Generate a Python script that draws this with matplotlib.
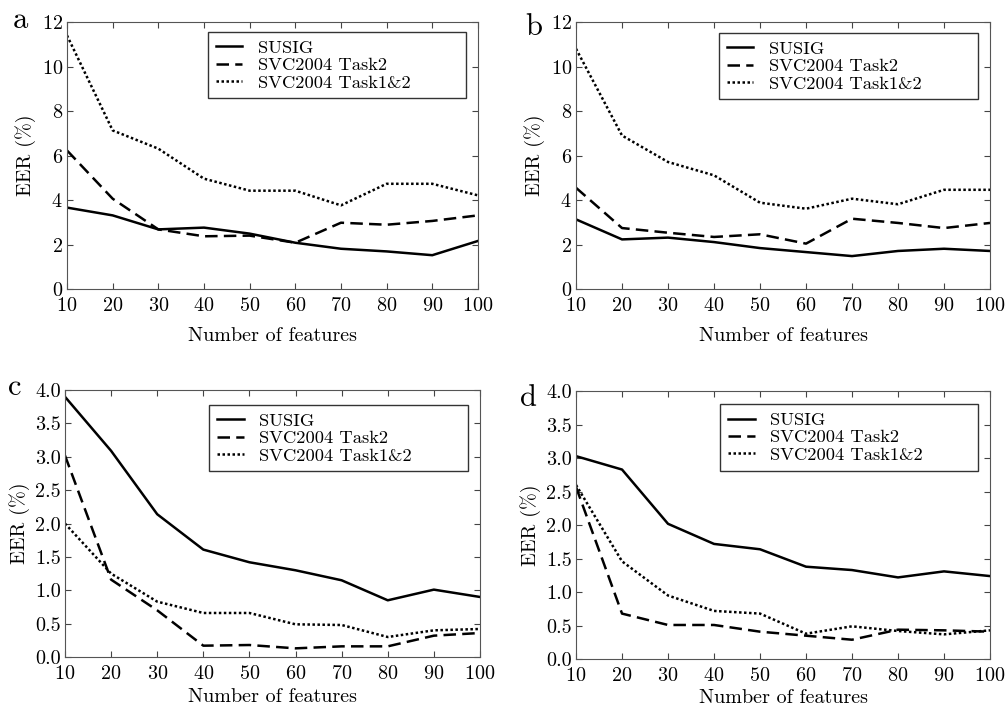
import matplotlib
matplotlib.use('Agg')
import matplotlib.pyplot as plt

plt.rcParams['font.family'] = ['cmr10', 'DejaVu Serif']
plt.rcParams['mathtext.fontset'] = 'cm'
plt.rcParams['axes.formatter.use_mathtext'] = True

# number of features on x axis
features = [10, 20, 30, 40, 50, 60, 70, 80, 90, 100]
series_names = ['SUSIG', 'SVC2004 Task2', 'SVC2004 Task1&2']

# panel a
a_susig = [3.66, 3.31, 2.68, 2.76, 2.49, 2.08, 1.81, 1.69, 1.52, 2.16]
a_task2 = [6.23, 4.06, 2.68, 2.37, 2.40, 2.08, 2.98, 2.89, 3.06, 3.31]
a_task12 = [11.4, 7.13, 6.31, 4.96, 4.42, 4.42, 3.76, 4.73, 4.73, 4.21]

# panel b
b_susig = [3.13, 2.23, 2.31, 2.11, 1.84, 1.66, 1.48, 1.71, 1.81, 1.71]
b_task2 = [4.55, 2.74, 2.53, 2.34, 2.46, 2.04, 3.16, 2.97, 2.74, 2.97]
b_task12 = [10.8, 6.90, 5.71, 5.11, 3.88, 3.61, 4.06, 3.81, 4.46, 4.46]

# panel c
c_susig = [3.90, 3.09, 2.14, 1.61, 1.42, 1.30, 1.15, 0.85, 1.01, 0.90]
c_task2 = [3.02, 1.16, 0.70, 0.17, 0.18, 0.13, 0.16, 0.16, 0.32, 0.36]
c_task12 = [2.00, 1.25, 0.83, 0.66, 0.66, 0.49, 0.48, 0.30, 0.40, 0.42]

# panel d
d_susig = [3.03, 2.83, 2.02, 1.72, 1.64, 1.38, 1.33, 1.22, 1.31, 1.24]
d_task2 = [2.57, 0.68, 0.51, 0.51, 0.41, 0.35, 0.29, 0.44, 0.43, 0.41]
d_task12 = [2.60, 1.46, 0.95, 0.72, 0.68, 0.38, 0.49, 0.42, 0.37, 0.43]

fig = plt.figure(figsize=(10.06, 7.08), dpi=100)

# letter, axes rect, data, ymax, yticks, letter pos, legend box (x0, top), xlabel pad
panels = [
    ('a', [0.0666, 0.5918, 0.4085, 0.377], (a_susig, a_task2, a_task12), 12, [0, 2, 4, 6, 8, 10, 12], (0.013, 0.972), (0.343, 0.962), 9),
    ('b', [0.5726, 0.5918, 0.4115, 0.377], (b_susig, b_task2, b_task12), 12, [0, 2, 4, 6, 8, 10, 12], (0.522, 0.962), (0.345, 0.959), 9),
    ('c', [0.0646, 0.0720, 0.4125, 0.377], (c_susig, c_task2, c_task12), 4, [0, 0.5, 1, 1.5, 2, 2.5, 3, 3.5, 4], (0.008, 0.453), (0.347, 0.944), 4),
    ('d', [0.5726, 0.0690, 0.4115, 0.3785], (d_susig, d_task2, d_task12), 4, [0, 0.5, 1, 1.5, 2, 2.5, 3, 3.5, 4], (0.517, 0.437), (0.348, 0.951), 3),
]

styles = [dict(ls='-', lw=1.8), dict(ls=(0, (5, 2.5)), lw=1.8), dict(ls=(0, (1, 1)), lw=1.8)]

for letter, pos, data, ymax, yticks, lpos, lbox, xpad in panels:
    ax = fig.add_axes(pos)
    for vals, name, st in zip(data, series_names, styles):
        ax.plot(features, vals, color='black', label=name, **st)
    ax.set_xlim(10, 100)
    ax.set_ylim(0, ymax)
    ax.set_xticks(features)
    ax.set_yticks(yticks)
    if ymax == 4:
        ax.set_yticklabels(['%.1f' % t for t in yticks])
    ax.tick_params(direction='in', top=True, right=True, length=4, labelsize=14.5, pad=3, color='#444444')
    ax.tick_params(axis='x', pad=5.5)
    for sp in ax.spines.values():
        sp.set_color('#555555')
    ax.set_xlabel('Number of features', fontsize=14.5, labelpad=xpad)
    ax.set_ylabel('EER (%)', fontsize=14.5, labelpad=4)
    leg = ax.legend(loc='upper left', bbox_to_anchor=(lbox[0], 0, 0.972 - lbox[0], lbox[1]),
                    mode='expand', borderaxespad=0, fontsize=13.3, fancybox=False,
                    framealpha=1, handlelength=1.45, labelspacing=0.08,
                    borderpad=0.42, handletextpad=0.85)
    leg.get_frame().set_edgecolor('#333333')
    leg.get_frame().set_linewidth(1.0)
    fig.text(lpos[0], lpos[1], letter, fontsize=22, va='center', ha='left')

fig.savefig('out.png', dpi=100)
